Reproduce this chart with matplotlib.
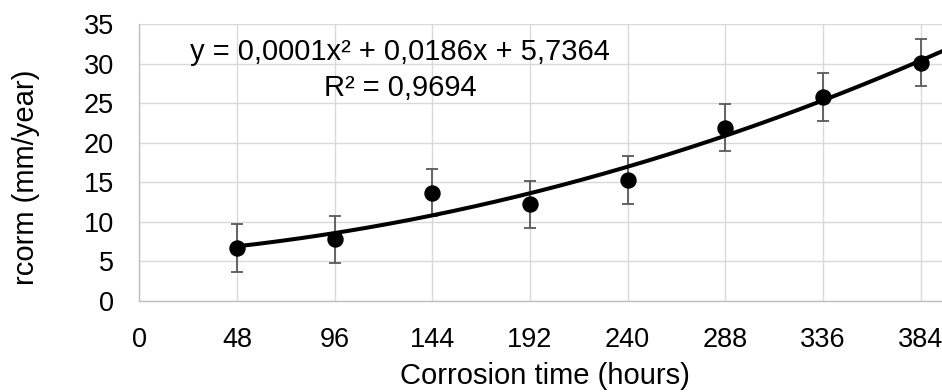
import numpy as np
import matplotlib
matplotlib.use('Agg')
import matplotlib.pyplot as plt

# данные
hours = [48, 96, 144, 192, 240, 288, 336, 384]
rcorm = [6.7, 7.8, 13.7, 12.2, 15.3, 21.9, 25.8, 30.1]
err = [3, 3, 3, 3, 3, 3, 3, 3]
x_ticks = [0, 48, 96, 144, 192, 240, 288, 336, 384]
y_ticks = [0, 5, 10, 15, 20, 25, 30, 35]

plt.rcParams['font.family'] = ['Liberation Sans', 'DejaVu Sans']
FS = 19.5   # подписи делений
FL = 21     # подписи осей и уравнение

fig = plt.figure(figsize=(9.42, 3.92), dpi=100)
ax = fig.add_axes([0.148, 0.232, 0.852, 0.707])

# полиномиальный тренд 2-й степени
coef = np.polyfit(hours, rcorm, 2)
xs = np.linspace(hours[0], 400, 200)
ax.plot(xs, np.polyval(coef, xs), color='black', lw=2.9, zorder=3)

ax.errorbar(hours, rcorm, yerr=err, fmt='none', ecolor='#595959',
            elinewidth=1.3, capsize=4.3, capthick=1.3, zorder=2)
ax.plot(hours, rcorm, 'o', color='black', ms=10.8, zorder=4)

ax.set_xlim(0, 394.5)
ax.set_ylim(0, 35)
ax.set_xticks(x_ticks)
ax.set_yticks(y_ticks)
ax.grid(True, color='#d9d9d9', lw=1.0)
ax.set_axisbelow(True)
for s in ['top', 'right']:
    ax.spines[s].set_visible(False)
for s in ['left', 'bottom']:
    ax.spines[s].set_color('#bfbfbf')
    ax.spines[s].set_linewidth(1.0)
ax.tick_params(length=0, labelsize=FS, colors='#000000')
ax.tick_params(axis='y', pad=18.5)
ax.tick_params(axis='x', pad=18.5)

ax.set_xlabel('Corrosion time (hours)', fontsize=FL, va='center')
ax.set_ylabel('rcorm (mm/year)', fontsize=FL, va='center')
ax.xaxis.set_label_coords(0.505, -0.271)
ax.yaxis.set_label_coords(-0.141, 0.448)

ax.text(128, 31.5, 'y = 0,0001x² + 0,0186x + 5,7364', fontsize=FL,
        ha='center', va='center')
ax.text(128, 26.9, 'R² = 0,9694', fontsize=FL, ha='center', va='center')

plt.savefig('out.png', dpi=100)
plt.close()
